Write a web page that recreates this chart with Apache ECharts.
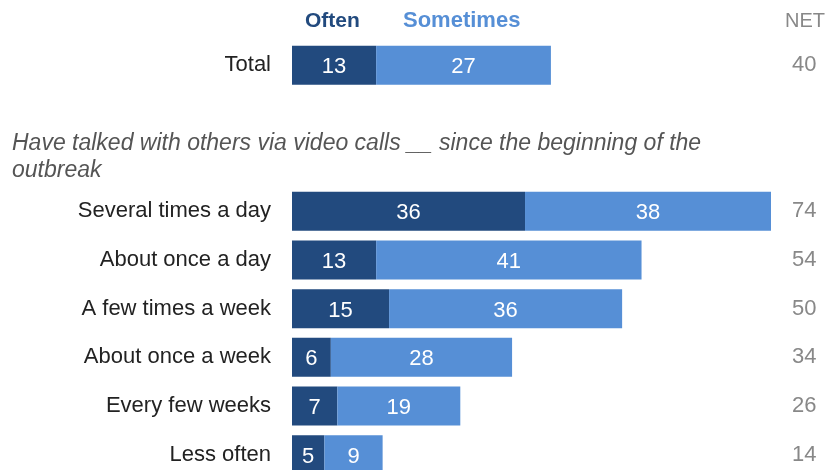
<!DOCTYPE html>
<html>
<head>
<meta charset="utf-8">
<script src="https://cdn.jsdelivr.net/npm/echarts@6/dist/echarts.min.js"></script>
<style>
  html, body { margin: 0; padding: 0; background: #fff; }
  #chart { width: 835px; height: 470px; }
</style>
</head>
<body>
<div id="chart"></div>
<script>
// Row labels; empty rows leave room for the question text between the total and the breakdown
const categories = ['Total', '', '', 'Several times a day', 'About once a day', 'A few times a week',
  'About once a week', 'Every few weeks', 'Less often'];
const often = [13, null, null, 36, 13, 15, 6, 7, 5];
const sometimes = [27, null, null, 38, 41, 36, 28, 19, 9];
const net = ['40', '', '', '74', '54', '50', '34', '26', '14'];

const DARK = '#224a7e';
const LIGHT = '#568fd6';
const FONT = 'Liberation Sans, Arial, sans-serif';

const chart = echarts.init(document.getElementById('chart'));

const valueLabel = {
  show: true,
  position: 'inside',
  offset: [0, 2],
  color: '#fff',
  fontSize: 22,
  fontFamily: FONT
};

chart.setOption({
  animation: false,
  grid: { left: 292, top: 41, width: 479, height: 438, containLabel: false, outerBoundsMode: 'none' },
  xAxis: {
    type: 'value', min: 0, max: 74,
    show: false
  },
  yAxis: [
    {
      type: 'category', data: categories, inverse: true,
      axisLine: { show: false }, axisTick: { show: false }, splitLine: { show: false },
      axisLabel: { color: '#222', fontSize: 22, fontFamily: FONT, margin: 21, padding: [4, 0, 0, 0] }
    },
    {
      type: 'category', data: net, inverse: true, position: 'right',
      axisLine: { show: false }, axisTick: { show: false }, splitLine: { show: false },
      axisLabel: { color: '#888', fontSize: 22, fontFamily: FONT, margin: 21, align: 'left', padding: [4, 0, 0, 0] }
    }
  ],
  series: [
    {
      name: 'Often', type: 'bar', stack: 'all', data: often, barWidth: 39,
      itemStyle: { color: DARK }, label: valueLabel
    },
    {
      name: 'Sometimes', type: 'bar', stack: 'all', data: sometimes, barWidth: 39,
      itemStyle: { color: LIGHT }, label: valueLabel
    }
  ],
  graphic: [
    { type: 'text', left: 305, top: 11, style: { text: 'Often', fill: DARK, fontSize: 21, fontWeight: 'bold', fontFamily: FONT } },
    { type: 'text', left: 403, top: 10, style: { text: 'Sometimes', fill: LIGHT, fontSize: 22, fontWeight: 'bold', fontFamily: FONT } },
    { type: 'text', left: 785, top: 11, style: { text: 'NET', fill: '#888', fontSize: 20, fontFamily: FONT } },
    { type: 'text', left: 12, top: 130, style: {
        text: 'Have talked with others via video calls __ since the beginning of the\noutbreak',
        fill: '#555', fontSize: 23, fontStyle: 'italic', fontFamily: FONT, lineHeight: 27 } }
  ]
});
</script>
</body>
</html>
